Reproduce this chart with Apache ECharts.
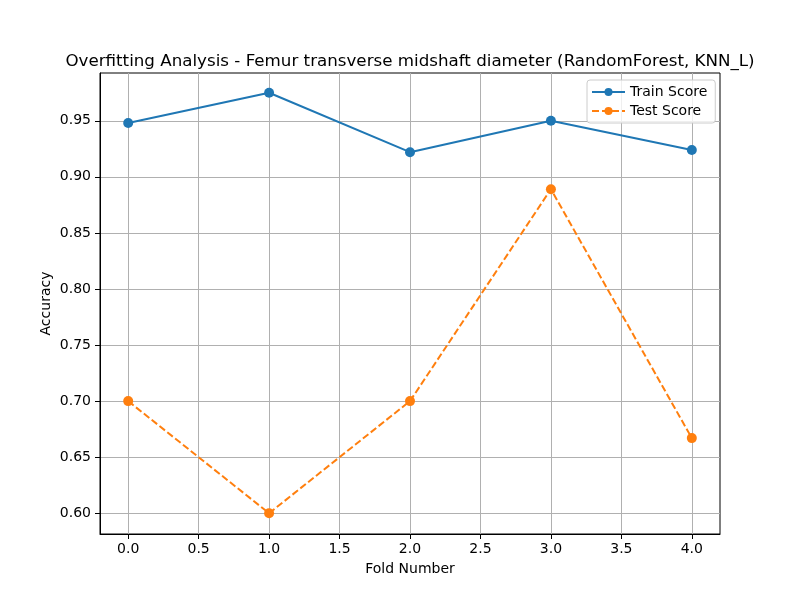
<!DOCTYPE html>
<html lang="en" style="height: 100%">
<head>
    <meta charset="utf-8">
</head>
<body style="height: 100%; margin: 0">
<div id="container" style="width: 800px; height: 600px"></div>
<script type="text/javascript" src="https://cdn.jsdelivr.net/npm/echarts@6/dist/echarts.min.js"></script>
<script type="text/javascript">

    // values
    const folds = [0, 1, 2, 3, 4];
    const trainScore = [0.948, 0.975, 0.922, 0.950, 0.924];
    const testScore = [0.700, 0.600, 0.700, 0.889, 0.667];
    const xTicks = [0, 0.5, 1, 1.5, 2, 2.5, 3, 3.5, 4];
    const yTicks = [0.60, 0.65, 0.70, 0.75, 0.80, 0.85, 0.90, 0.95];

    const font = 'DejaVu Sans';
    const blue = '#1f77b4';
    const orange = '#ff7f0e';

    var dom = document.getElementById('container');
    var myChart = echarts.init(dom, null, {renderer: 'canvas'});

    function pairs(values) {
        return folds.map((f, i) => [f, values[i]]);
    }

    const option = {
        animation: false,
        backgroundColor: '#ffffff',
        title: {
            text: 'Overfitting Analysis - Femur transverse midshaft diameter (RandomForest, KNN_L)',
            left: 405,
            textAlign: 'center',
            top: 48,
            textStyle: {fontFamily: font, fontSize: 16.7, fontWeight: 'normal', color: '#000'}
        },
        legend: {
            orient: 'vertical',
            left: 587,
            top: 80,
            itemWidth: 33,
            itemHeight: 10,
            itemGap: 5,
            padding: [5, 8, 5, 4],
            backgroundColor: 'rgba(255,255,255,0.8)',
            borderColor: '#cccccc',
            borderWidth: 1,
            borderRadius: 3,
            textStyle: {fontFamily: font, fontSize: 14, color: '#000'},
            data: ['Train Score', 'Test Score']
        },
        grid: {
            left: 100,
            right: 80,
            top: 73,
            bottom: 66,
            show: true,
            borderColor: '#000',
            borderWidth: 1
        },
        xAxis: {
            type: 'value',
            min: -0.2,
            max: 4.2,
            name: 'Fold Number',
            nameLocation: 'middle',
            nameGap: 28,
            nameMoveOverlap: false,
            nameTextStyle: {fontFamily: font, fontSize: 14, color: '#000'},
            axisLine: {show: true, onZero: false, lineStyle: {color: '#000'}},
            axisTick: {show: true, length: 5, customValues: xTicks, lineStyle: {color: '#000'}},
            axisLabel: {
                customValues: xTicks,
                margin: 8,
                fontFamily: font,
                fontSize: 14,
                color: '#000',
                formatter: v => v.toFixed(1)
            },
            splitLine: {show: true, lineStyle: {color: '#b0b0b0', width: 1}}
        },
        yAxis: {
            type: 'value',
            min: 0.5815,
            max: 0.9926,
            name: 'Accuracy',
            nameLocation: 'middle',
            nameGap: 47,
            nameMoveOverlap: false,
            nameTextStyle: {fontFamily: font, fontSize: 14, color: '#000'},
            axisLine: {show: true, onZero: false, lineStyle: {color: '#000'}},
            axisTick: {show: true, length: 5, customValues: yTicks, lineStyle: {color: '#000'}},
            axisLabel: {
                customValues: yTicks,
                margin: 9,
                fontFamily: font,
                fontSize: 14,
                color: '#000',
                formatter: v => v.toFixed(2)
            },
            splitLine: {show: true, lineStyle: {color: '#b0b0b0', width: 1}}
        },
        series: [
            {
                name: 'Train Score',
                type: 'line',
                data: pairs(trainScore),
                symbol: 'circle',
                symbolSize: 10,
                color: blue,
                lineStyle: {width: 2, color: blue},
                itemStyle: {color: blue}
            },
            {
                name: 'Test Score',
                type: 'line',
                data: pairs(testScore),
                symbol: 'circle',
                symbolSize: 10,
                color: orange,
                lineStyle: {width: 2, color: orange, type: [7, 3]},
                itemStyle: {color: orange}
            }
        ]
    };

    myChart.setOption(option);
    window.addEventListener('resize', myChart.resize);

</script>
</body>
</html>
